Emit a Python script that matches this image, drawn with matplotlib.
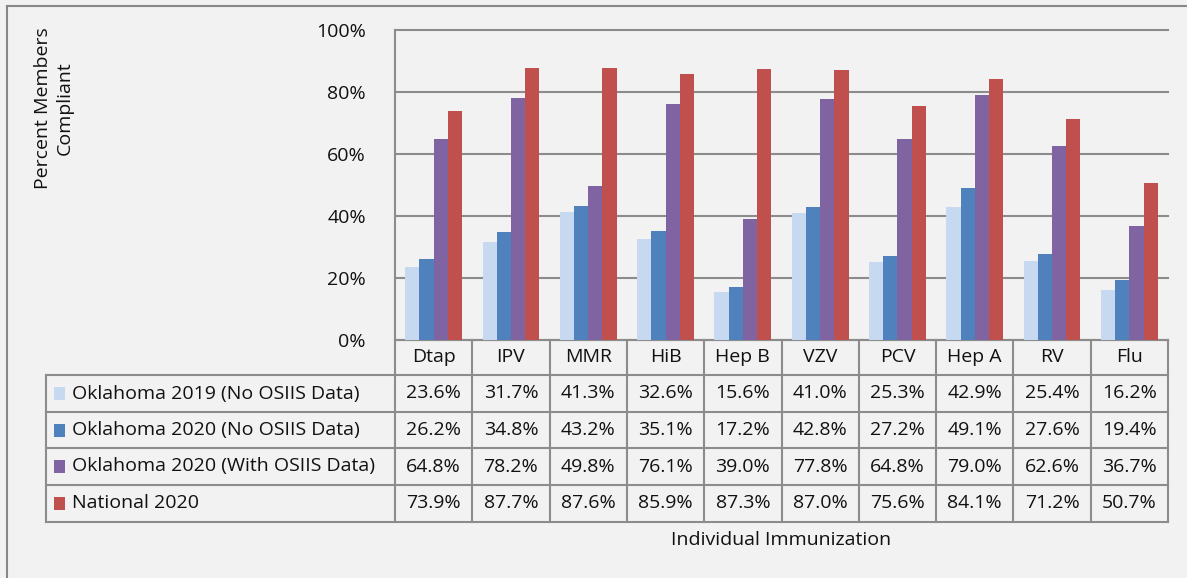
import matplotlib
matplotlib.use('Agg')
import matplotlib.pyplot as plt
import numpy as np
from matplotlib.transforms import blended_transform_factory
from matplotlib.lines import Line2D
from matplotlib.patches import Rectangle
from matplotlib.ticker import PercentFormatter

categories = ['Dtap', 'IPV', 'MMR', 'HiB', 'Hep B', 'VZV', 'PCV', 'Hep A', 'RV', 'Flu']
series_names = ['Oklahoma 2019 (No OSIIS Data)', 'Oklahoma 2020 (No OSIIS Data)',
                'Oklahoma 2020 (With OSIIS Data)', 'National 2020']
ok_2019 = [23.6, 31.7, 41.3, 32.6, 15.6, 41.0, 25.3, 42.9, 25.4, 16.2]
ok_2020 = [26.2, 34.8, 43.2, 35.1, 17.2, 42.8, 27.2, 49.1, 27.6, 19.4]
ok_2020_osiis = [64.8, 78.2, 49.8, 76.1, 39.0, 77.8, 64.8, 79.0, 62.6, 36.7]
national_2020 = [73.9, 87.7, 87.6, 85.9, 87.3, 87.0, 75.6, 84.1, 71.2, 50.7]
colors = ['#c6d9f1', '#4f81bd', '#8064a2', '#c0504d']

W, H = 1187, 578
plt.rcParams['font.family'] = ['Open Sans', 'DejaVu Sans']
FS = 14
TXT = '#111111'
GRID = '#8c8c8c'

fig = plt.figure(figsize=(W / 100, H / 100), dpi=100, facecolor='#f2f2f2')
L, R, T, B = 395, 1168, 30, 340
ax = fig.add_axes([L / W, 1 - B / H, (R - L) / W, (B - T) / H])
ax.set_facecolor('#f2f2f2')

n = len(categories)
x = np.arange(n)
bw = 0.184
series = [ok_2019, ok_2020, ok_2020_osiis, national_2020]
for i, (vals, c) in enumerate(zip(series, colors)):
    ax.bar(x + (i - 1.5) * bw, np.array(vals) / 100, bw, color=c, zorder=3, linewidth=0)

ax.set_xlim(-0.5, n - 0.5)
ax.set_ylim(0, 1.0)
ax.set_yticks(np.arange(0, 1.01, 0.2))
ax.yaxis.set_major_formatter(PercentFormatter(1.0, decimals=0))
ax.tick_params(axis='y', length=0, pad=21, labelsize=FS, colors=TXT)
ax.set_xticks([])
ax.grid(axis='y', color=GRID, lw=1.5, zorder=0)
for g in ax.get_ygridlines():
    g.set_clip_on(False)
for s in ['top', 'right']:
    ax.spines[s].set_visible(False)
for s in ['left', 'bottom']:
    ax.spines[s].set_color(GRID)
    ax.spines[s].set_linewidth(1.5)

# data table
bt = blended_transform_factory(ax.transData, fig.transFigure)
def fy(ypx):
    return 1 - ypx / H

header_mid = 357
row_lines = [375, 412, 448, 485, 522]
row_mids = [(row_lines[k] + row_lines[k + 1]) / 2 for k in range(4)]
TL = 46

for k in range(n + 1):
    ax.add_artist(Line2D([k - 0.5, k - 0.5], [fy(B), fy(row_lines[-1])], transform=bt,
                         color=GRID, lw=1.5, clip_on=False))
for yl in row_lines:
    fig.add_artist(Line2D([TL / W, R / W], [fy(yl), fy(yl)], transform=fig.transFigure,
                          color=GRID, lw=1.5))
fig.add_artist(Line2D([TL / W, TL / W], [fy(row_lines[0]), fy(row_lines[-1])],
                      transform=fig.transFigure, color=GRID, lw=1.5))

for xi, cat in zip(x, categories):
    ax.text(xi, fy(header_mid), cat, transform=bt, ha='center', va='center',
            fontsize=FS, color=TXT, clip_on=False)

for r, (name, vals, c) in enumerate(zip(series_names, series, colors)):
    ym = row_mids[r]
    fig.add_artist(Rectangle((54 / W, fy(ym + 6.5)), 11 / W, 13 / H,
                             transform=fig.transFigure, color=c, lw=0))
    fig.text(72 / W, fy(ym), name, ha='left', va='center', fontsize=FS, color=TXT)
    for xi, v in zip(x, vals):
        ax.text(xi, fy(ym), f'{v:.1f}%', transform=bt, ha='center', va='center',
                fontsize=FS, color=TXT, clip_on=False)

fig.text(54 / W, fy(108), 'Percent Members\nCompliant', rotation=90, ha='center',
         va='center', multialignment='center', fontsize=FS, color=TXT, linespacing=1.25)
fig.text((L + R) / 2 / W, fy(540), 'Individual Immunization', ha='center', va='center',
         fontsize=FS, color=TXT)

# outer frame (top and left visible)
fig.add_artist(Line2D([7 / W, 1], [fy(5.5), fy(5.5)], transform=fig.transFigure,
                      color='#888888', lw=1.5))
fig.add_artist(Line2D([7 / W, 7 / W], [fy(5.5), 0], transform=fig.transFigure,
                      color='#888888', lw=1.5))

fig.savefig('out.png', dpi=100, facecolor=fig.get_facecolor())
